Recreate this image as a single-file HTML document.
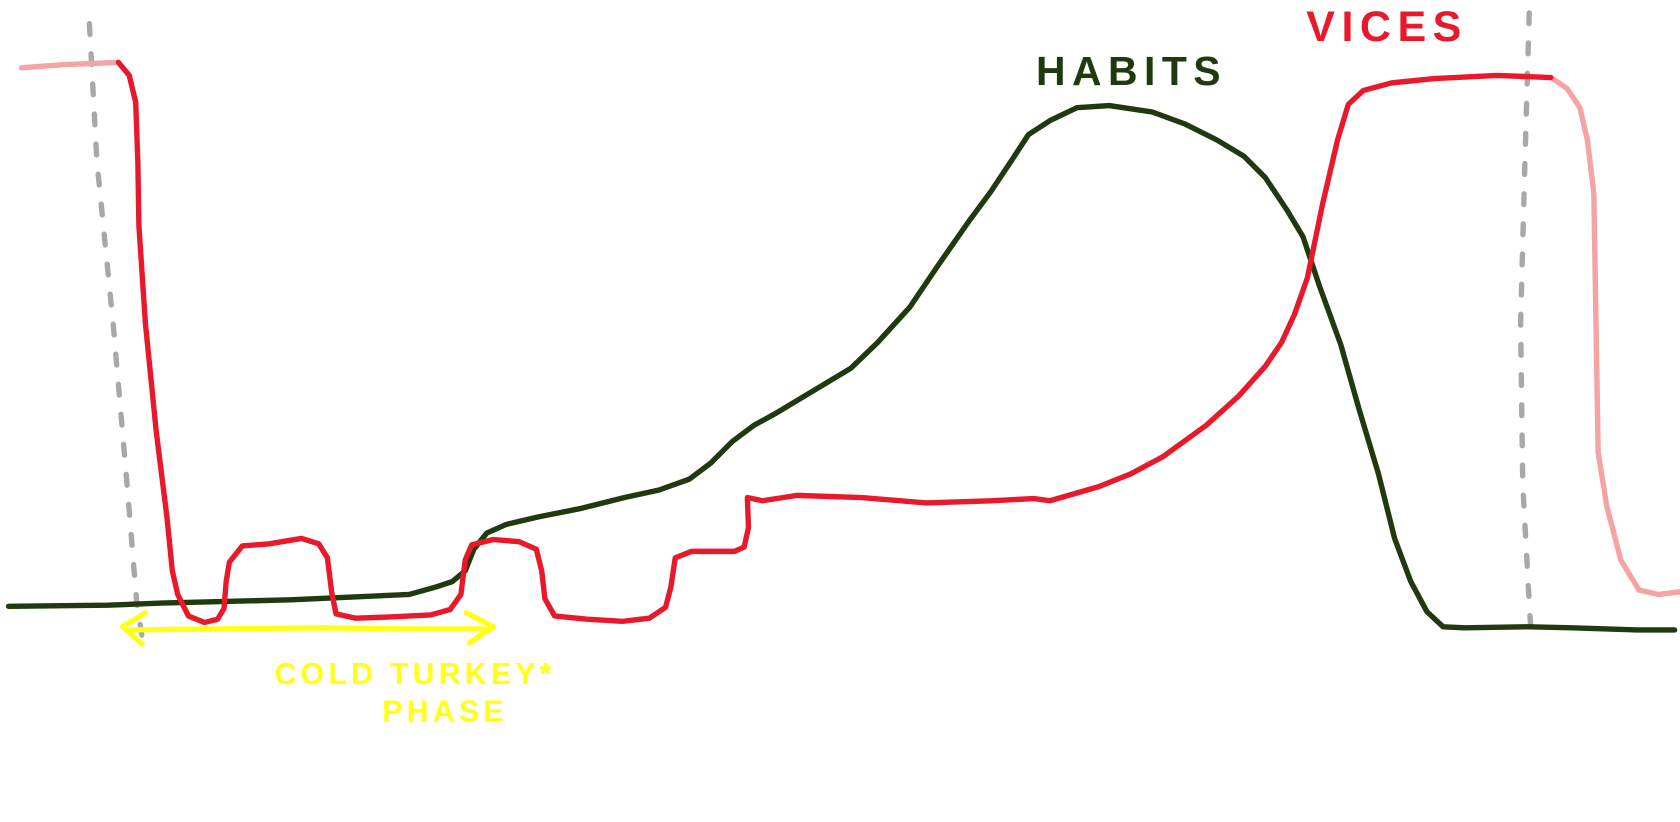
<!DOCTYPE html>
<html><head><meta charset="utf-8"><style>
html,body{margin:0;padding:0;background:#fff;}
svg{display:block;}
text{font-family:"Liberation Sans",sans-serif;font-weight:bold;}
</style></head><body>
<svg width="1680" height="822" viewBox="0 0 1560 763.3" preserveAspectRatio="none" xmlns="http://www.w3.org/2000/svg">
<g fill="none" stroke-linecap="round" stroke-linejoin="round">
<polyline points="83,22 90,150 105,300 118,450 127,560 132,592" stroke="#a8a8a8" stroke-width="5" stroke-dasharray="10,18"/>
<polyline points="1420,12 1416,150 1412,300 1414,450 1420,560 1422,594" stroke="#a8a8a8" stroke-width="5" stroke-dasharray="10,18"/>
<polyline stroke="#1e3a0e" stroke-width="5" points="8,563 100,562 150,560 270,557 380,552 405,545 420,540 432,530 440,510 452,495 470,487 500,480 540,472 580,462 612,455 640,445 660,430 680,410 700,395 720,384 760,360 790,342 815,318 845,285 870,248 900,205 920,178 940,148 955,125 975,112 1000,100 1030,98 1070,104 1100,115 1130,130 1155,145 1175,165 1195,195 1210,220 1225,265 1245,320 1262,380 1280,440 1295,500 1310,540 1325,568 1340,582 1360,583 1420,582 1460,583 1520,585 1555,585"/>
<polyline stroke="#f6a3a3" stroke-width="5" points="20,63 60,60 110,58"/>
<polyline stroke="#f6a3a3" stroke-width="5" points="1440,72 1455,82 1467,100 1474,130 1480,180 1482,300 1484,420 1492,470 1505,520 1522,548 1540,552 1565,549"/>
<polyline stroke="#e8192b" stroke-width="5" points="110,58 120,70 126,95 128,150 129,210 135,300 145,400 155,480 160,530 165,552 175,572 190,578 202,575 208,565 210,540 213,522 225,507 250,505 280,500 296,505 304,518 308,550 312,570 330,574 360,573 400,571 418,566 428,552 432,520 438,506 458,501 482,503 498,510 503,530 506,556 515,572 545,575 578,577 603,574 618,564 623,545 627,518 642,512 682,512 691,508 695,490 694,462 708,465 740,460 800,462 860,467 920,465 960,463 975,465 1020,452 1050,440 1080,424 1120,395 1150,368 1175,340 1190,318 1202,292 1214,258 1228,190 1242,130 1252,97 1266,84 1292,77 1332,73 1390,70 1440,72"/>
<polyline stroke="#ffff1a" stroke-width="5" points="118,585 200,584 300,583 380,584 450,584"/>
<polyline stroke="#ffff1a" stroke-width="5" points="135,569 114,582 132,598"/>
<polyline stroke="#ffff1a" stroke-width="5" points="433,569 458,582 436,597"/>
</g>
<text x="962" y="79" font-size="38" fill="#1e3a0e" letter-spacing="6">HABITS</text>
<text x="1213" y="38" font-size="40" fill="#e8192b" letter-spacing="6">VICES</text>
<text x="255" y="635" font-size="28" fill="#ffff1a" letter-spacing="4">COLD TURKEY*</text>
<text x="355" y="670" font-size="28" fill="#ffff1a" letter-spacing="4">PHASE</text>
</svg>
</body></html>
